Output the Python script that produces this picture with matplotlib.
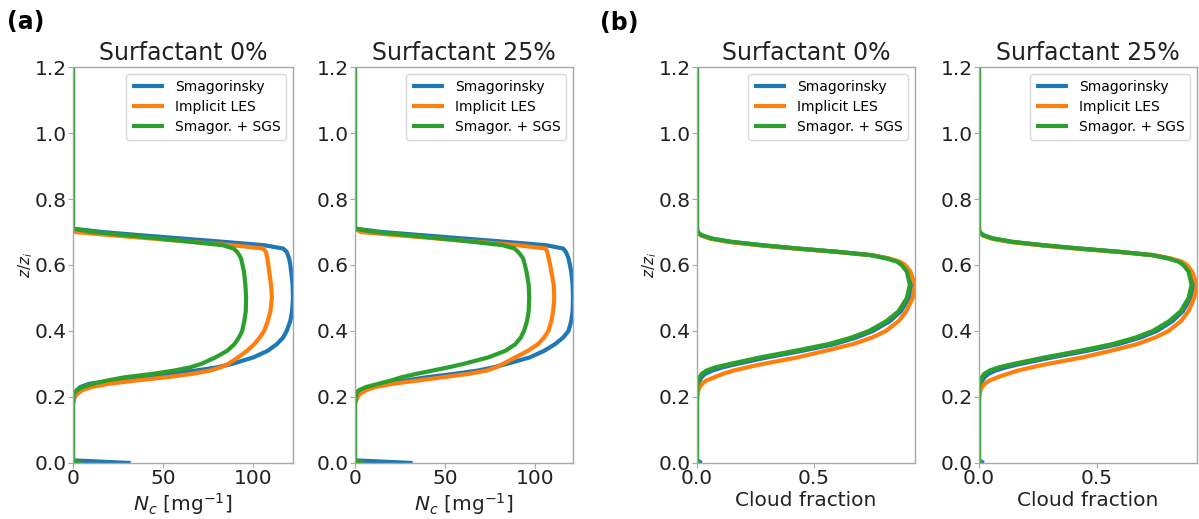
import matplotlib
matplotlib.use("Agg")
import matplotlib.pyplot as plt

# ---------------- data ----------------
z_levels = [0.0, 0.008, 0.18, 0.20, 0.21, 0.22, 0.23, 0.24, 0.25, 0.26, 0.27, 0.28,
            0.29, 0.30, 0.32, 0.34, 0.36, 0.38, 0.40, 0.43, 0.46, 0.50, 0.54, 0.58,
            0.60, 0.61, 0.62, 0.63, 0.64, 0.65, 0.66, 0.67, 0.68, 0.69, 0.70, 0.71, 1.2]

series_labels = ["Smagorinsky", "Implicit LES", "Smagor. + SGS"]
series_colors = ["#1f77b4", "#ff7f0e", "#2ca02c"]
panel_titles = ["Surfactant 0%", "Surfactant 25%", "Surfactant 0%", "Surfactant 25%"]

# Nc [mg^-1], surfactant 0%
nc_s0_smag = [32, 0, 0, 0.3, 0.8, 2, 4, 9, 22, 37, 53, 68, 80, 88, 100, 108, 113, 116.5,
              118.5, 120.5, 121.5, 122, 121.8, 121, 120.5, 120.2, 119.8, 119.2, 118.5,
              116.5, 106, 84, 61, 38, 16, 0, 0]
nc_s0_iles = [0, 0, 0, 1, 2.5, 5, 10, 20, 35, 52, 66, 76, 82, 86, 91.5, 96.5, 100.5, 103.5,
              106, 108, 109.5, 110.3, 109.8, 108.8, 108.3, 108, 107.8, 107.4, 107, 105.5,
              88, 66, 44, 22, 1, 0, 0]
nc_s0_sgs = [5, 0, 0, 0.2, 0.5, 2, 5.5, 11, 19, 29, 44, 56, 65, 71, 79, 85.5, 89.5, 92,
             93.8, 95, 95.8, 96, 95.6, 94.8, 94, 93.6, 93.2, 92.2, 91, 89, 83, 66, 48, 30,
             11, 0, 0]

# Nc [mg^-1], surfactant 25%
nc_s25_smag = [32, 0, 0, 0.3, 1, 3, 9, 18, 28, 40, 55, 68, 77, 84, 97, 105, 111, 115.5,
               118.5, 120, 120.8, 121, 120.8, 120, 119.3, 118.9, 118.5, 117.8, 117, 115.5,
               106, 84, 61, 38, 15, 0, 0]
nc_s25_iles = [0, 0, 0, 1.5, 3, 6, 11, 21, 35, 49, 63, 73, 78.5, 82, 89, 96, 101.5, 105,
               107.3, 109, 110, 110.6, 110.3, 109, 108.3, 107.9, 107.5, 107.1, 106.7,
               105.8, 90, 68, 46, 24, 3, 0, 0]
nc_s25_sgs = [5, 0, 0, 0.3, 0.8, 2, 6, 13, 20, 26, 34, 43, 52, 60, 74, 83.5, 89, 92, 93.8,
              95.5, 96.4, 96.7, 96.4, 95.2, 94.3, 93.8, 93.3, 92, 90.5, 88.5, 82, 66, 48,
              30, 11, 0, 0]

# Cloud fraction, surfactant 0%
cf_s0_smag = [0.02, 0, 0, 0, 0.001, 0.002, 0.004, 0.007, 0.012, 0.02, 0.035, 0.065,
              0.11, 0.17, 0.30, 0.45, 0.585, 0.68, 0.752, 0.825, 0.872, 0.906, 0.918,
              0.902, 0.88, 0.86, 0.815, 0.745, 0.60, 0.43, 0.275, 0.145, 0.062, 0.019,
              0.002, 0, 0]
cf_s0_iles = [0, 0, 0, 0.001, 0.003, 0.006, 0.012, 0.022, 0.04, 0.075, 0.11, 0.155,
              0.215, 0.28, 0.43, 0.55, 0.665, 0.748, 0.807, 0.862, 0.895, 0.922, 0.932,
              0.912, 0.89, 0.868, 0.82, 0.745, 0.59, 0.41, 0.26, 0.135, 0.055, 0.016,
              0.001, 0, 0]
cf_s0_sgs = [0.01, 0, 0, 0, 0, 0, 0.001, 0.003, 0.006, 0.011, 0.02, 0.04, 0.08, 0.14,
             0.27, 0.42, 0.56, 0.66, 0.735, 0.81, 0.862, 0.897, 0.91, 0.897, 0.875, 0.855,
             0.81, 0.74, 0.60, 0.43, 0.28, 0.15, 0.065, 0.02, 0.002, 0, 0]

# Cloud fraction, surfactant 25%
cf_s25_smag = [0.02, 0, 0, 0, 0.001, 0.002, 0.004, 0.008, 0.014, 0.024, 0.04, 0.07,
               0.115, 0.175, 0.31, 0.46, 0.59, 0.685, 0.755, 0.822, 0.866, 0.898, 0.91,
               0.894, 0.872, 0.852, 0.807, 0.737, 0.595, 0.425, 0.27, 0.14, 0.06, 0.018,
               0.002, 0, 0]
cf_s25_iles = [0, 0, 0, 0.001, 0.003, 0.007, 0.013, 0.024, 0.045, 0.08, 0.12, 0.165,
               0.225, 0.29, 0.44, 0.56, 0.67, 0.748, 0.805, 0.858, 0.89, 0.914, 0.926,
               0.905, 0.883, 0.862, 0.815, 0.74, 0.585, 0.405, 0.255, 0.13, 0.052, 0.015,
               0.001, 0, 0]
cf_s25_sgs = [0.01, 0, 0, 0, 0, 0, 0.001, 0.003, 0.007, 0.012, 0.022, 0.045, 0.085,
              0.145, 0.28, 0.43, 0.565, 0.665, 0.738, 0.808, 0.857, 0.89, 0.903, 0.89,
              0.868, 0.848, 0.803, 0.733, 0.595, 0.425, 0.275, 0.145, 0.062, 0.019,
              0.002, 0, 0]

panel_data = [
    [nc_s0_smag, nc_s0_iles, nc_s0_sgs],
    [nc_s25_smag, nc_s25_iles, nc_s25_sgs],
    [cf_s0_smag, cf_s0_iles, cf_s0_sgs],
    [cf_s25_smag, cf_s25_iles, cf_s25_sgs],
]
xticks_nc = [0, 50, 100]
xticks_cf = [0.0, 0.5]
yticks = [0.0, 0.2, 0.4, 0.6, 0.8, 1.0, 1.2]

# ---------------- figure ----------------
W, H = 1199, 519
fig = plt.figure(figsize=(W / 100, H / 100), dpi=100)

boxes = [(73, 220), (355, 218), (697, 218), (979, 218)]
top_px, bot_px = 67, 463
spine_col = "#a8a8a8"

for i, ((x0, w), series) in enumerate(zip(boxes, panel_data)):
    ax = fig.add_axes([x0 / W, (H - bot_px) / H, w / W, (bot_px - top_px) / H])
    for vals, lab, col in zip(series, series_labels, series_colors):
        ax.plot(vals, z_levels, color=col, lw=3, label=lab, solid_capstyle="butt",
                solid_joinstyle="round")
    xmax = max(max(v) for v in series)
    ax.set_xlim(0, xmax)
    ax.set_ylim(0, 1.2)
    ax.set_yticks(yticks)
    ax.set_yticklabels([f"{t:.1f}" for t in yticks])
    if i < 2:
        ax.set_xticks(xticks_nc)
        ax.set_xticklabels([str(t) for t in xticks_nc])
        ax.set_xlabel(r"$N_c$ [mg$^{-1}$]", fontsize=14.5, labelpad=2, color="#222222")
    else:
        ax.set_xticks(xticks_cf)
        ax.set_xticklabels([f"{t:.1f}" for t in xticks_cf])
        ax.set_xlabel("Cloud fraction", fontsize=14.5, labelpad=2, color="#222222")
    if i in (0, 2):
        ax.set_ylabel(r"$z/z_i$", fontsize=11, labelpad=0, color="#222222")
    ax.tick_params(labelsize=14.5, colors=spine_col, labelcolor="#222222",
                   length=3.5, width=0.8, pad=1)
    for s in ax.spines.values():
        s.set_color(spine_col)
        s.set_linewidth(1.0)
    ax.set_title(panel_titles[i], fontsize=17, color="#222222", pad=5)
    leg = ax.legend(loc="upper right", fontsize=10, frameon=True, borderaxespad=0.5,
                    handlelength=2.3, labelspacing=0.45)
    leg.get_frame().set_edgecolor("#d0d0d0")

fig.text(7 / W, 1 - 10 / H, "(a)", fontsize=17, fontweight="bold", va="top", ha="left")
fig.text(600 / W, 1 - 11 / H, "(b)", fontsize=17, fontweight="bold", va="top", ha="left")

fig.savefig("out.png", dpi=100)
